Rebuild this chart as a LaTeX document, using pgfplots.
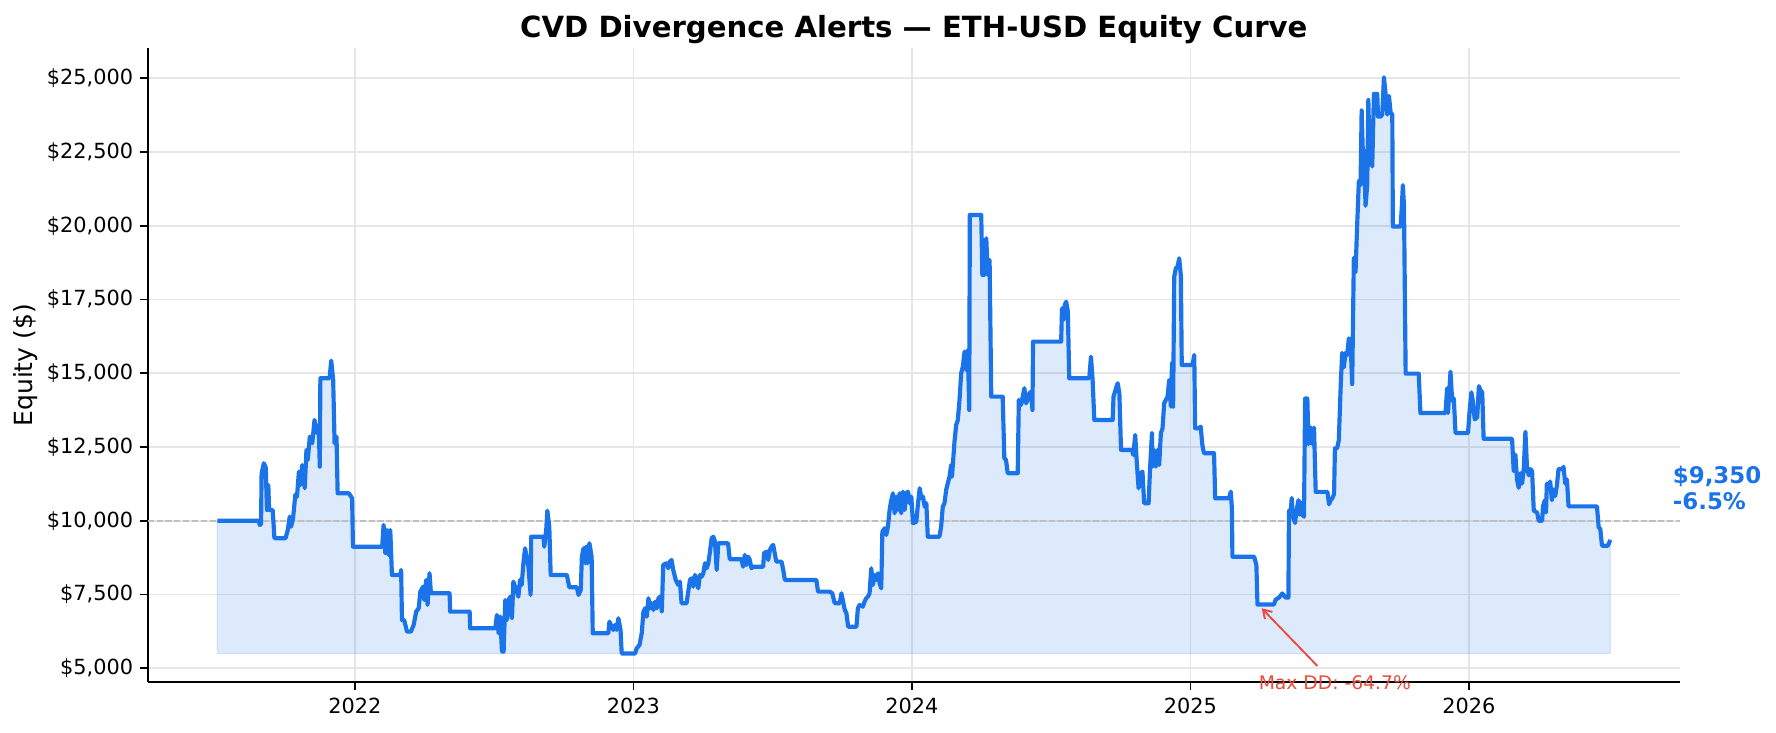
\documentclass[border=0pt]{standalone}
\usepackage{fontspec}
\setmainfont{DejaVu Sans}
\usepackage{pgfplots}
\pgfplotsset{compat=1.18}
\usepackage{pgfplotstable}
\usepgfplotslibrary{fillbetween}
\usetikzlibrary{arrows.meta}
\definecolor{eqblue}{HTML}{1A73E8}
\definecolor{ddred}{HTML}{E74C3C}
\definecolor{gridc}{HTML}{E6E6E6}
\definecolor{dashc}{HTML}{BFBFBF}

\pgfplotstableread{
x y
2021.506 10000
2021.655 10000
2021.658 9860
2021.663 9880
2021.665 11610
2021.673 11950
2021.680 11800
2021.684 10366
2021.689 11214
2021.692 10366
2021.705 10366
2021.711 9407
2021.751 9407
2021.759 9690
2021.766 10140
2021.771 9800
2021.778 10085
2021.786 10875
2021.792 10817
2021.799 11665
2021.805 11214
2021.811 11892
2021.820 11102
2021.826 12400
2021.831 12061
2021.838 12851
2021.847 12627
2021.855 13418
2021.864 12966
2021.870 13248
2021.874 11834
2021.876 14831
2021.909 14831
2021.915 15428
2021.922 14773
2021.927 12627
2021.934 12851
2021.938 10932
2021.978 10932
2021.990 10762
2021.993 9122
2022.098 9122
2022.103 9858
2022.109 8898
2022.115 9688
2022.121 8842
2022.127 9688
2022.133 8163
2022.163 8163
2022.166 8332
2022.169 6637
2022.177 6637
2022.187 6241
2022.201 6241
2022.211 6468
2022.220 6919
2022.229 7034
2022.235 7597
2022.245 7766
2022.249 7315
2022.256 7993
2022.261 7146
2022.268 8220
2022.273 7542
2022.340 7542
2022.342 6919
2022.412 6919
2022.414 6356
2022.504 6356
2022.510 6807
2022.516 6186
2022.522 6750
2022.528 5563
2022.534 5563
2022.540 7315
2022.546 6637
2022.552 7315
2022.558 7427
2022.564 6695
2022.569 7936
2022.579 7654
2022.587 7427
2022.593 7993
2022.599 7824
2022.605 8560
2022.611 9068
2022.623 8444
2022.631 7485
2022.633 9461
2022.677 9461
2022.680 9122
2022.687 9688
2022.691 10343
2022.698 9800
2022.703 8163
2022.761 8163
2022.770 7746
2022.797 7746
2022.803 7485
2022.811 7654
2022.815 8783
2022.821 9068
2022.827 8560
2022.830 9124
2022.835 8560
2022.842 9237
2022.850 8783
2022.854 6186
2022.910 6186
2022.914 6580
2022.922 6410
2022.928 6298
2022.934 6468
2022.940 6298
2022.946 6695
2022.954 6298
2022.958 5500
2023.006 5500
2023.012 5678
2023.022 5790
2023.030 6186
2023.036 6919
2023.042 7034
2023.048 6749
2023.054 7373
2023.060 7034
2023.066 7204
2023.072 6976
2023.078 7258
2023.084 7034
2023.090 7373
2023.096 7427
2023.102 6919
2023.107 8502
2023.119 8560
2023.125 8390
2023.131 8614
2023.137 8671
2023.143 8332
2023.152 7993
2023.161 7824
2023.167 7936
2023.173 7204
2023.191 7204
2023.197 7597
2023.203 7993
2023.209 8051
2023.215 7766
2023.221 8163
2023.227 7993
2023.233 7712
2023.239 8163
2023.245 8105
2023.251 8220
2023.257 8560
2023.263 8390
2023.269 8560
2023.275 8953
2023.281 9407
2023.287 9461
2023.293 9292
2023.299 8332
2023.305 9237
2023.340 9237
2023.346 8695
2023.388 8695
2023.394 8444
2023.400 8841
2023.406 8502
2023.412 8783
2023.418 8671
2023.424 8390
2023.430 8444
2023.466 8444
2023.469 8898
2023.478 8953
2023.484 8671
2023.490 9010
2023.496 9122
2023.502 9180
2023.512 8671
2023.514 8614
2023.532 8614
2023.538 8332
2023.544 7993
2023.657 7993
2023.663 7597
2023.705 7597
2023.714 7542
2023.723 7204
2023.741 7204
2023.747 7542
2023.753 7258
2023.759 6976
2023.765 6865
2023.771 6410
2023.801 6410
2023.806 7034
2023.812 7146
2023.824 7088
2023.830 7258
2023.836 7373
2023.842 7427
2023.848 7542
2023.854 8390
2023.860 7824
2023.866 8163
2023.872 7993
2023.878 8220
2023.884 7882
2023.890 7712
2023.894 9631
2023.902 9746
2023.908 9519
2023.914 9800
2023.920 10366
2023.926 10705
2023.932 10932
2023.938 10254
2023.944 10817
2023.950 10366
2023.956 10932
2023.962 10254
2023.968 10987
2023.974 10366
2023.980 10932
2023.986 10987
2023.992 10594
2023.998 10817
2024.004 9915
2024.016 9970
2024.022 10594
2024.028 11102
2024.034 10763
2024.040 10817
2024.046 10478
2024.052 10594
2024.057 9461
2024.099 9461
2024.105 9800
2024.111 10478
2024.117 10594
2024.123 11044
2024.129 11272
2024.135 11495
2024.141 11892
2024.144 11495
2024.147 11892
2024.153 12682
2024.159 13248
2024.165 13418
2024.171 14095
2024.177 15000
2024.183 15224
2024.189 15733
2024.195 15112
2024.201 15790
2024.206 13756
2024.208 20367
2024.249 20367
2024.253 18333
2024.261 18333
2024.267 19577
2024.273 18333
2024.279 18841
2024.285 14207
2024.326 14207
2024.332 12119
2024.338 12061
2024.344 11611
2024.380 11611
2024.384 14095
2024.392 13926
2024.398 14207
2024.404 14492
2024.410 13984
2024.416 14100
2024.422 14322
2024.428 14377
2024.433 13756
2024.435 16072
2024.536 16072
2024.539 17204
2024.544 16807
2024.549 17316
2024.554 17428
2024.560 17089
2024.565 14831
2024.637 14831
2024.643 15563
2024.649 14773
2024.655 13418
2024.721 13418
2024.724 14207
2024.733 14492
2024.739 14662
2024.745 14322
2024.751 12400
2024.790 12400
2024.795 12231
2024.802 12909
2024.807 12061
2024.814 11102
2024.822 11611
2024.828 11665
2024.834 10594
2024.850 10594
2024.855 11722
2024.862 12966
2024.864 11834
2024.870 12400
2024.876 11834
2024.882 12400
2024.888 11892
2024.894 12966
2024.900 13136
2024.906 13984
2024.912 14100
2024.918 14207
2024.924 14773
2024.930 13868
2024.934 15340
2024.938 13868
2024.942 18275
2024.948 18560
2024.954 18614
2024.960 18899
2024.966 18280
2024.969 15282
2025.008 15282
2025.014 15621
2025.017 13136
2025.031 13136
2025.037 13190
2025.043 12570
2025.049 12289
2025.085 12289
2025.089 10763
2025.139 10763
2025.145 10987
2025.149 10424
2025.151 8783
2025.229 8783
2025.237 8502
2025.241 7160
2025.300 7160
2025.306 7325
2025.318 7397
2025.324 7464
2025.330 7536
2025.342 7397
2025.352 7397
2025.354 10346
2025.360 10278
2025.364 10770
2025.368 10136
2025.376 9926
2025.380 10278
2025.388 10699
2025.392 10207
2025.396 10627
2025.402 10207
2025.408 10136
2025.412 14143
2025.420 14143
2025.424 12597
2025.432 13160
2025.438 12597
2025.444 13160
2025.450 10980
2025.492 10980
2025.498 10560
2025.504 10699
2025.510 10770
2025.516 10909
2025.519 12455
2025.527 12455
2025.533 12736
2025.540 14634
2025.545 15688
2025.551 15197
2025.557 15688
2025.563 15617
2025.569 16180
2025.575 16109
2025.581 14634
2025.587 18919
2025.593 18428
2025.599 20045
2025.605 21519
2025.611 21380
2025.615 23909
2025.620 22224
2025.623 22574
2025.629 20679
2025.635 21380
2025.639 24262
2025.644 22082
2025.647 22787
2025.653 22011
2025.659 24472
2025.671 24472
2025.674 23699
2025.683 23699
2025.689 23770
2025.695 25035
2025.701 24472
2025.707 23770
2025.713 24401
2025.719 23838
2025.725 23770
2025.727 19973
2025.755 19973
2025.759 20608
2025.763 21380
2025.767 20679
2025.773 14987
2025.820 14987
2025.826 13651
2025.916 13651
2025.922 14492
2025.925 13651
2025.934 15055
2025.940 14072
2025.946 14143
2025.952 12977
2025.997 12977
2026.002 13651
2026.009 14353
2026.014 14072
2026.021 13438
2026.030 13509
2026.036 14563
2026.042 14424
2026.048 14353
2026.053 12780
2026.155 12780
2026.161 11682
2026.167 12244
2026.173 11400
2026.179 11119
2026.185 11611
2026.191 11261
2026.197 11753
2026.203 13017
2026.209 11753
2026.215 11543
2026.221 11753
2026.227 11682
2026.233 10346
2026.245 10278
2026.251 9997
2026.263 9997
2026.266 10488
2026.273 10699
2026.277 10278
2026.280 11261
2026.286 11119
2026.292 11332
2026.298 10699
2026.304 11051
2026.310 10841
2026.316 11190
2026.322 11753
2026.334 11753
2026.340 11824
2026.346 11261
2026.352 11400
2026.358 10488
2026.460 10488
2026.466 9783
2026.472 9715
2026.478 9153
2026.499 9153
2026.508 9350
}\eqdata

\begin{document}
\begin{tikzpicture}
\begin{axis}[
  at={(0,0)}, anchor=south west,
  width=735.5pt, height=304.3pt, scale only axis,
  xmin=2021.256, xmax=2026.758, ymin=4525, ymax=26015,
  scaled x ticks=false, scaled y ticks=false,
  clip=false,
  axis lines=left,
  axis line style={-, line width=0.8pt, black},
  tick align=outside,
  major tick length=3.5pt,
  tick style={line width=0.8pt, black},
  grid=major,
  major grid style={gridc, line width=0.8pt},
  xtick={2022,2023,2024,2025,2026},
  xticklabels={2022,2023,2024,2025,2026},
  ytick={5000,7500,10000,12500,15000,17500,20000,22500,25000},
  yticklabels={{\$5,000},{\$7,500},{\$10,000},{\$12,500},{\$15,000},{\$17,500},{\$20,000},{\$22,500},{\$25,000}},
  tick label style={font=\fontsize{10}{12}\selectfont},
  xticklabel style={inner sep=0pt, anchor=north, yshift=-3.9pt},
  yticklabel style={inner sep=0pt, anchor=east, xshift=-3.3pt},
]
\addplot[name path=eq, draw=none, forget plot] table[x=x,y=y]{\eqdata};
\addplot[name path=base, draw=none, forget plot] coordinates {(2021.506,5500) (2026.508,5500)};
\addplot[fill=eqblue, fill opacity=0.15, draw=eqblue, draw opacity=0.15, line width=0.6pt, forget plot] fill between[of=eq and base];
\addplot[dashc, line width=0.8pt, dash pattern=on 2.96pt off 1.28pt, forget plot] coordinates {(2021.256,10000) (2026.758,10000)};
\addplot[eqblue, line width=2pt, line join=round, forget plot] table[x=x,y=y]{\eqdata};
\draw[ddred, line width=0.9pt, -{Straight Barb[length=4pt,width=5pt]}] (axis cs:2025.456,5078) -- (axis cs:2025.256,7034);
\node[anchor=base west, inner sep=0pt, text=ddred, font=\fontsize{9}{11}\selectfont] at (axis cs:2025.244,4288) {Max DD: -64.7\%};
\node[anchor=base west, inner sep=0pt, text=eqblue, font=\bfseries\fontsize{11}{13}\selectfont] at (axis cs:2026.731,11272) {\$9,350};
\node[anchor=base west, inner sep=0pt, text=eqblue, font=\bfseries\fontsize{11}{13}\selectfont] at (axis cs:2026.731,10390) {-6.5\%};
\node[anchor=base, inner sep=0pt, font=\bfseries\fontsize{14}{17}\selectfont] at (rel axis cs:0.5,1) [yshift=5.4pt] {CVD Divergence Alerts — ETH-USD Equity Curve};
\node[anchor=center, inner sep=0pt, rotate=90, font=\fontsize{12}{14}\selectfont] at (rel axis cs:-0.0794,0.5) {Equity (\$)};
\end{axis}
\pgfresetboundingbox
\path[use as bounding box] (-70.9pt,-24.3pt) rectangle (781.6pt,327.5pt);
\end{tikzpicture}
\end{document}
